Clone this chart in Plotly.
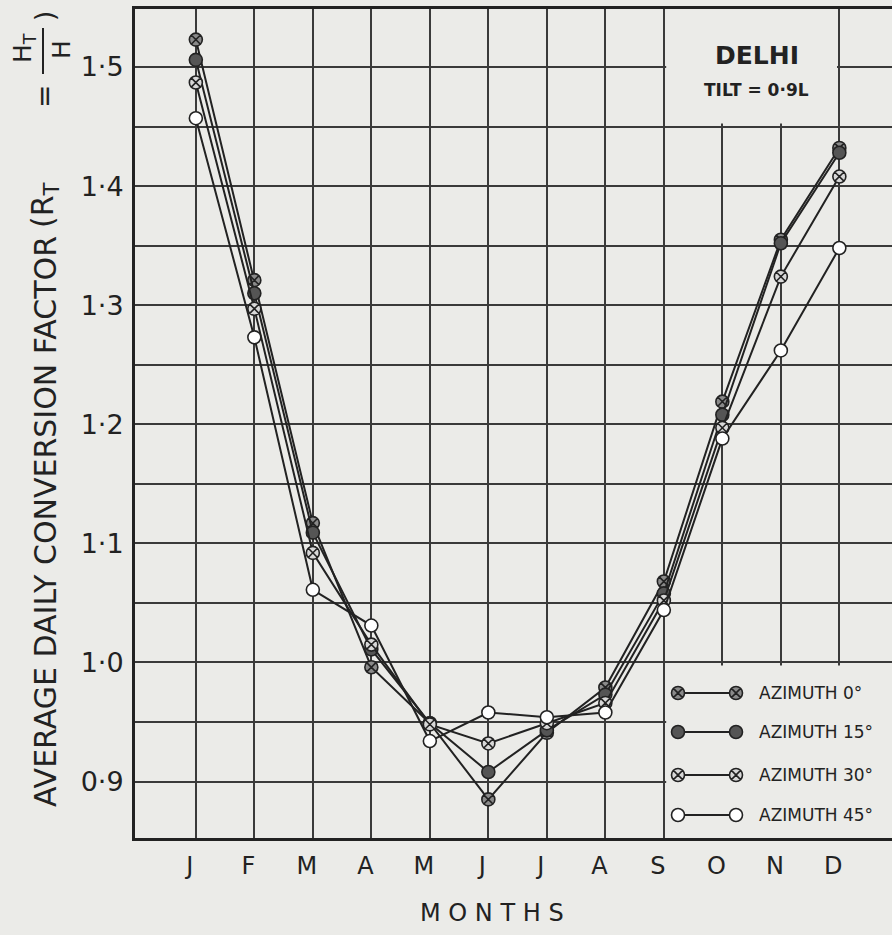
import plotly.graph_objects as go

# ---------------- data ----------------
months = ["J", "F", "M", "A", "M", "J", "J", "A", "S", "O", "N", "D"]
month_idx = list(range(12))
az0 = [1.523, 1.321, 1.117, 0.996, 0.949, 0.885, 0.941, 0.979, 1.068, 1.219, 1.355, 1.432]
az15 = [1.506, 1.310, 1.109, 1.011, 0.949, 0.908, 0.943, 0.973, 1.058, 1.208, 1.352, 1.428]
az30 = [1.487, 1.297, 1.092, 1.015, 0.948, 0.932, 0.949, 0.966, 1.052, 1.197, 1.324, 1.408]
az45 = [1.457, 1.273, 1.061, 1.031, 0.934, 0.958, 0.954, 0.958, 1.044, 1.188, 1.262, 1.348]
series_names = ["AZIMUTH 0°", "AZIMUTH 15°", "AZIMUTH 30°", "AZIMUTH 45°"]
ytick_vals = [0.9, 1.0, 1.1, 1.2, 1.3, 1.4, 1.5]
ytick_text = ["0·9", "1·0", "1·1", "1·2", "1·3", "1·4", "1·5"]

# ---------------- styles ----------------
BG = "#ebebe8"
INK = "#222222"
GRID = "#3a3a3a"
FONT = "DejaVu Sans"
styles = [
    dict(symbol="circle-x", color="#8a8a8a"),
    dict(symbol="circle", color="#555555"),
    dict(symbol="circle-x", color="#d8d8d8"),
    dict(symbol="circle", color="#ffffff"),
]
W, H = 892, 935
L, R, T, B = 135, 0, 9, 97

fig = go.Figure()
for vals, name, st in zip([az0, az15, az30, az45], series_names, styles):
    fig.add_trace(go.Scatter(
        x=month_idx, y=vals, mode="lines+markers", name=name, showlegend=False,
        line=dict(color=INK, width=2),
        marker=dict(symbol=st["symbol"], size=13, color=st["color"],
                    line=dict(color=INK, width=1.6)),
    ))

# manual legend on an overlay axis in pixel units
leg_y = [693, 732, 775, 815]
for yy, name, st in zip(leg_y, series_names, styles):
    fig.add_trace(go.Scatter(
        x=[678, 736], y=[yy, yy], xaxis="x2", yaxis="y2", mode="lines+markers",
        showlegend=False, hoverinfo="skip",
        line=dict(color=INK, width=2),
        marker=dict(symbol=st["symbol"], size=13, color=st["color"],
                    line=dict(color=INK, width=1.6)),
    ))
    fig.add_annotation(x=757, y=yy, xref="x2", yref="y2", text=name, showarrow=False,
                       xanchor="left", yanchor="middle",
                       font=dict(family=FONT, size=17, color=INK))

fig.update_layout(
    width=W, height=H,
    margin=dict(l=L, r=R, t=T, b=B),
    paper_bgcolor=BG, plot_bgcolor=BG,
    xaxis=dict(
        range=[-1.04, 11.9], tickvals=month_idx, ticktext=months,
        showgrid=True, gridcolor=GRID, gridwidth=2,
        showline=True, linecolor=INK, linewidth=3, mirror=True,
        ticks="outside", ticklen=4, tickcolor="rgba(0,0,0,0)",
        ticklabelshift=-6,
        tickfont=dict(family=FONT, size=24, color=INK),
        zeroline=False,
    ),
    yaxis=dict(
        range=[0.8526, 1.5487], tickvals=ytick_vals, ticktext=ytick_text,
        showgrid=True, gridcolor=GRID, gridwidth=2,
        minor=dict(dtick=0.05, tick0=0.85, showgrid=True, gridcolor=GRID, gridwidth=2),
        showline=True, linecolor=INK, linewidth=3,
        ticks="outside", ticklen=3, tickcolor="rgba(0,0,0,0)",
        tickfont=dict(family=FONT, size=27, color=INK),
        zeroline=False,
    ),
    xaxis2=dict(overlaying="x", range=[L, W], visible=False, fixedrange=True),
    yaxis2=dict(overlaying="y", range=[H - B, T], visible=False, fixedrange=True),
    showlegend=False,
)

# masks for legend and title boxes (hide gridlines, stay under traces)
fig.add_shape(type="rect", xref="x", yref="y", x0=8.04, x1=12.5, y0=0.80, y1=0.9975,
              fillcolor=BG, line_width=0, layer="between")
fig.add_shape(type="rect", xref="x", yref="y", x0=8.04, x1=10.96, y0=1.4525, y1=1.6,
              fillcolor=BG, line_width=0, layer="between")


def px_x(p):
    return (p - L) / (W - L)


def px_y(p):
    return ((H - B) - p) / (H - B - T)


def label(text, x, y, size, angle=0, bold=False):
    fig.add_annotation(x=px_x(x), y=px_y(y), xref="paper", yref="paper",
                       text=f"<b>{text}</b>" if bold else text, textangle=angle,
                       showarrow=False, xanchor="center", yanchor="middle",
                       font=dict(family=FONT, size=size, color=INK))


# title box text
label("DELHI", 757, 56, 25, bold=True)
label("TILT = 0·9L", 756, 90, 17, bold=True)

# x-axis title
label("M O N T H S", 492, 913, 24)

# y-axis title composed of parts
label("AVERAGE DAILY CONVERSION FACTOR", 45, 522, 30, angle=-90)
label("(R<sub>T</sub>", 45, 205, 30, angle=-90)
label("=", 45, 97, 28, angle=-90)
label("H<sub>T</sub>", 24, 48, 25, angle=-90)
label("H", 62, 50, 25, angle=-90)
label(")", 45, 16, 26, angle=-90)
fig.add_shape(type="line", xref="paper", yref="paper",
              x0=px_x(43), x1=px_x(43), y0=px_y(28), y1=px_y(74),
              line=dict(color=INK, width=2))

fig.write_html("out.html")
